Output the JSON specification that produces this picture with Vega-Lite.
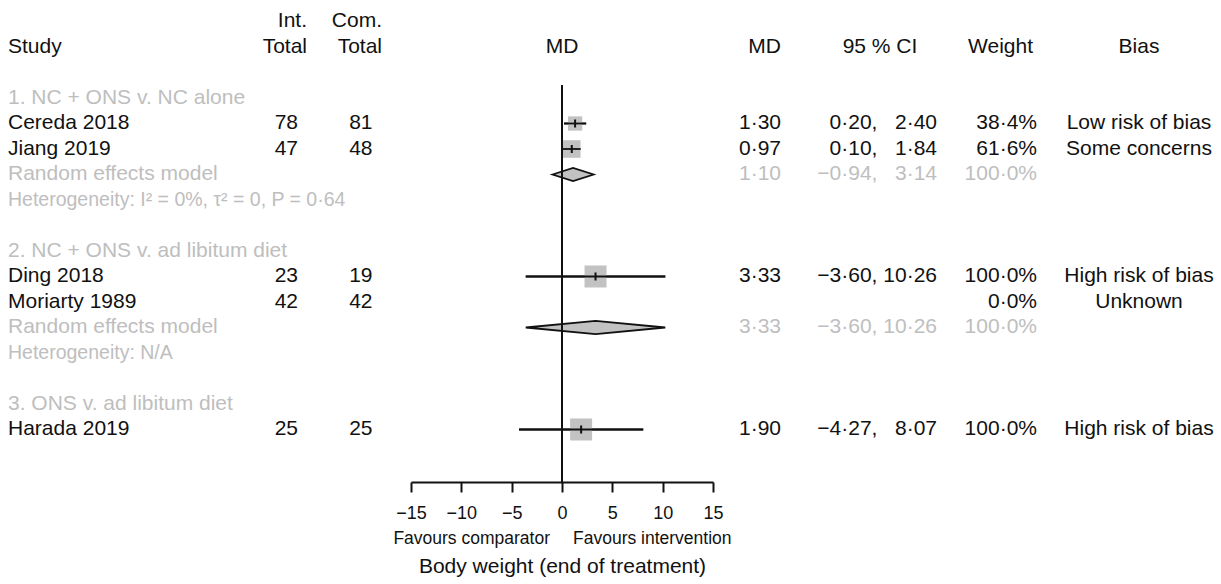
{
  "$schema": "https://vega.github.io/schema/vega-lite/v6.json",
  "width": 1221,
  "height": 482,
  "autosize": {"type": "none"},
  "padding": {"left": 0, "top": 0, "right": 0, "bottom": 102},
  "background": "white",
  "config": {
    "view": {"stroke": null},
    "font": "Liberation Sans",
    "text": {"font": "Liberation Sans"}
  },
  "datasets": {
    "studies": [
      {"study": "Cereda 2018", "row": 0, "md": 1.30, "lower": 0.20, "upper": 2.40, "weight": 38.4},
      {"study": "Jiang 2019", "row": 1, "md": 0.97, "lower": 0.10, "upper": 1.84, "weight": 61.6},
      {"study": "Ding 2018", "row": 6, "md": 3.33, "lower": -3.60, "upper": 10.26, "weight": 100},
      {"study": "Harada 2019", "row": 12, "md": 1.90, "lower": -4.27, "upper": 8.07, "weight": 100}
    ],
    "pooled": [
      {"group": 1, "row": 2, "md": 1.10, "lower": -0.94, "upper": 3.14},
      {"group": 2, "row": 8, "md": 3.33, "lower": -3.60, "upper": 10.26}
    ],
    "cells": [
      {"row": -3, "col": 0, "text": "Study", "kind": "header"},
      {"row": -4, "col": 2, "text": "Int.", "kind": "header"},
      {"row": -3, "col": 2, "text": "Total", "kind": "header"},
      {"row": -4, "col": 4, "text": "Com.", "kind": "header"},
      {"row": -3, "col": 4, "text": "Total", "kind": "header"},
      {"row": -3, "col": 5, "text": "MD", "kind": "header"},
      {"row": -3, "col": 6, "text": "95 % CI", "kind": "header"},
      {"row": -3, "col": 8, "text": "Weight", "kind": "header"},
      {"row": -3, "col": 10, "text": "Bias", "kind": "header"},

      {"row": -1, "col": 0, "text": "1. NC + ONS v. NC alone", "kind": "group"},
      {"row": 0, "col": 0, "text": "Cereda 2018", "kind": "study"},
      {"row": 0, "col": 1, "text": "78", "kind": "study"},
      {"row": 0, "col": 3, "text": "81", "kind": "study"},
      {"row": 0, "col": 5, "text": "1·30", "kind": "study"},
      {"row": 0, "col": 7, "text": "0·20, \u20072·40", "kind": "study"},
      {"row": 0, "col": 9, "text": "38·4%", "kind": "study"},
      {"row": 0, "col": 10, "text": "Low risk of bias", "kind": "study"},
      {"row": 1, "col": 0, "text": "Jiang 2019", "kind": "study"},
      {"row": 1, "col": 1, "text": "47", "kind": "study"},
      {"row": 1, "col": 3, "text": "48", "kind": "study"},
      {"row": 1, "col": 5, "text": "0·97", "kind": "study"},
      {"row": 1, "col": 7, "text": "0·10, \u20071·84", "kind": "study"},
      {"row": 1, "col": 9, "text": "61·6%", "kind": "study"},
      {"row": 1, "col": 10, "text": "Some concerns", "kind": "study"},
      {"row": 2, "col": 0, "text": "Random effects model", "kind": "pooled"},
      {"row": 2, "col": 5, "text": "1·10", "kind": "pooled"},
      {"row": 2, "col": 7, "text": "−0·94, \u20073·14", "kind": "pooled"},
      {"row": 2, "col": 9, "text": "100·0%", "kind": "pooled"},
      {"row": 3, "col": 0, "text": "Heterogeneity: I² = 0%, τ² = 0, P = 0·64", "kind": "het"},

      {"row": 5, "col": 0, "text": "2. NC + ONS v. ad libitum diet", "kind": "group"},
      {"row": 6, "col": 0, "text": "Ding 2018", "kind": "study"},
      {"row": 6, "col": 1, "text": "23", "kind": "study"},
      {"row": 6, "col": 3, "text": "19", "kind": "study"},
      {"row": 6, "col": 5, "text": "3·33", "kind": "study"},
      {"row": 6, "col": 7, "text": "−3·60, 10·26", "kind": "study"},
      {"row": 6, "col": 9, "text": "100·0%", "kind": "study"},
      {"row": 6, "col": 10, "text": "High risk of bias", "kind": "study"},
      {"row": 7, "col": 0, "text": "Moriarty 1989", "kind": "study"},
      {"row": 7, "col": 1, "text": "42", "kind": "study"},
      {"row": 7, "col": 3, "text": "42", "kind": "study"},
      {"row": 7, "col": 9, "text": "0·0%", "kind": "study"},
      {"row": 7, "col": 10, "text": "Unknown", "kind": "study"},
      {"row": 8, "col": 0, "text": "Random effects model", "kind": "pooled"},
      {"row": 8, "col": 5, "text": "3·33", "kind": "pooled"},
      {"row": 8, "col": 7, "text": "−3·60, 10·26", "kind": "pooled"},
      {"row": 8, "col": 9, "text": "100·0%", "kind": "pooled"},
      {"row": 9, "col": 0, "text": "Heterogeneity: N/A", "kind": "het"},

      {"row": 11, "col": 0, "text": "3. ONS v. ad libitum diet", "kind": "group"},
      {"row": 12, "col": 0, "text": "Harada 2019", "kind": "study"},
      {"row": 12, "col": 1, "text": "25", "kind": "study"},
      {"row": 12, "col": 3, "text": "25", "kind": "study"},
      {"row": 12, "col": 5, "text": "1·90", "kind": "study"},
      {"row": 12, "col": 7, "text": "−4·27, \u20078·07", "kind": "study"},
      {"row": 12, "col": 9, "text": "100·0%", "kind": "study"},
      {"row": 12, "col": 10, "text": "High risk of bias", "kind": "study"}
    ]
  },
  "resolve": {"scale": {"x": "independent"}, "axis": {"x": "independent"}},
  "layer": [
    {
      "data": {"name": "studies"},
      "mark": {"type": "rule", "color": "#111111", "strokeWidth": 1.8},
      "encoding": {
        "x": {
          "field": "lower", "type": "quantitative",
          "scale": {"domain": [-15, 15], "range": [411, 713], "nice": false, "zero": false},
          "title": "Body weight (end of treatment)",
          "axis": {
            "orient": "bottom",
            "values": [-15, -10, -5, 0, 5, 10, 15],
            "grid": false,
            "domainColor": "#111111", "domainWidth": 2,
            "tickColor": "#111111", "tickWidth": 2, "tickSize": 10,
            "labelFont": "Liberation Sans", "labelFontSize": 18, "labelColor": "#111111",
            "labelPadding": 12, "labelFlush": false, "labelOverlap": false,
            "titleFont": "Liberation Sans", "titleFontSize": 21, "titleFontWeight": "normal",
            "titleColor": "#111111", "titlePadding": 33
          }
        },
        "x2": {"field": "upper"},
        "y": {"field": "row", "type": "quantitative", "scale": {"domain": [-4.843, 14.059], "reverse": true, "nice": false, "zero": false}, "axis": null}
      }
    },
    {
      "data": {"name": "studies"},
      "mark": {"type": "point", "shape": "square", "filled": true, "color": "#c2c2c2", "opacity": 1, "strokeWidth": 0},
      "encoding": {
        "x": {"field": "md", "type": "quantitative", "scale": {"domain": [-15, 15], "range": [411, 713], "nice": false, "zero": false}, "axis": null},
        "y": {"field": "row", "type": "quantitative", "axis": null},
        "size": {"field": "weight", "type": "quantitative", "scale": {"domain": [38.4, 100], "range": [204, 484], "zero": false}, "legend": null}
      }
    },
    {
      "data": {"name": "studies"},
      "mark": {"type": "rule", "color": "#111111", "strokeWidth": 1.8},
      "encoding": {
        "x": {"field": "lower", "type": "quantitative", "scale": {"domain": [-15, 15], "range": [411, 713], "nice": false, "zero": false}, "axis": null},
        "x2": {"field": "upper"},
        "y": {"field": "row", "type": "quantitative", "axis": null}
      }
    },
    {
      "data": {"name": "pooled"},
      "transform": [
        {"fold": ["lower", "md", "upper"], "as": ["vertex", "xv"]},
        {"calculate": "datum.vertex === 'md' ? datum.row - 0.26 : datum.row", "as": "ytop"},
        {"calculate": "datum.vertex === 'md' ? datum.row + 0.26 : datum.row", "as": "ybot"}
      ],
      "mark": {"type": "area", "orient": "vertical", "fill": "#c2c2c2", "stroke": "#111111", "strokeWidth": 1.8, "opacity": 1, "strokeJoin": "miter"},
      "encoding": {
        "x": {"field": "xv", "type": "quantitative", "scale": {"domain": [-15, 15], "range": [411, 713], "nice": false, "zero": false}, "axis": null},
        "y": {"field": "ytop", "type": "quantitative", "axis": null},
        "y2": {"field": "ybot"},
        "detail": {"field": "group", "type": "nominal"}
      }
    },
    {
      "data": {"name": "studies"},
      "mark": {"type": "tick", "orient": "vertical", "color": "#111111", "size": 8, "thickness": 2, "opacity": 1},
      "encoding": {
        "x": {"field": "md", "type": "quantitative", "scale": {"domain": [-15, 15], "range": [411, 713], "nice": false, "zero": false}, "axis": null},
        "y": {"field": "row", "type": "quantitative", "axis": null}
      }
    },
    {
      "data": {"values": [{}]},
      "mark": {"type": "rule", "color": "#111111", "strokeWidth": 2},
      "encoding": {
        "x": {"datum": 0, "type": "quantitative", "scale": {"domain": [-15, 15], "range": [411, 713], "nice": false, "zero": false}, "axis": null},
        "y": {"datum": -1.51, "type": "quantitative", "axis": null},
        "y2": {"datum": 14.059}
      }
    },
    {
      "data": {"values": [{}]},
      "mark": {"type": "text", "align": "center", "baseline": "middle", "fontSize": 21, "color": "#111111"},
      "encoding": {
        "x": {"datum": 0, "type": "quantitative", "scale": {"domain": [-15, 15], "range": [411, 713], "nice": false, "zero": false}, "axis": null},
        "y": {"datum": -3, "type": "quantitative", "axis": null},
        "text": {"value": "MD"}
      }
    },
    {
      "data": {"values": [{}]},
      "mark": {"type": "text", "align": "right", "baseline": "middle", "fontSize": 17.5, "color": "#111111", "dx": -12},
      "encoding": {
        "x": {"datum": 0, "type": "quantitative", "scale": {"domain": [-15, 15], "range": [411, 713], "nice": false, "zero": false}, "axis": null},
        "y": {"datum": 16.29, "type": "quantitative", "axis": null},
        "text": {"value": "Favours comparator"}
      }
    },
    {
      "data": {"values": [{}]},
      "mark": {"type": "text", "align": "left", "baseline": "middle", "fontSize": 17.5, "color": "#111111", "dx": 11},
      "encoding": {
        "x": {"datum": 0, "type": "quantitative", "scale": {"domain": [-15, 15], "range": [411, 713], "nice": false, "zero": false}, "axis": null},
        "y": {"datum": 16.29, "type": "quantitative", "axis": null},
        "text": {"value": "Favours intervention"}
      }
    },
    {
      "data": {"name": "cells"},
      "encoding": {
        "x": {"field": "col", "type": "quantitative", "scale": {"domain": [0, 1, 2, 3, 4, 5, 6, 7, 8, 9, 10], "range": [8, 298, 307, 372.5, 382, 781, 880, 937, 1033, 1037, 1139], "nice": false, "zero": false}, "axis": null},
        "y": {"field": "row", "type": "quantitative", "axis": null},
        "text": {"field": "text"},
        "color": {"field": "kind", "type": "nominal", "scale": {"domain": ["header", "study", "group", "pooled", "het"], "range": ["#111111", "#111111", "#bebebe", "#bebebe", "#bebebe"]}, "legend": null}
      },
      "layer": [
        {
          "transform": [{"filter": "datum.col === 0 && datum.kind !== 'het'"}],
          "mark": {"type": "text", "align": "left", "baseline": "middle", "fontSize": 21}
        },
        {
          "transform": [{"filter": "datum.col === 0 && datum.kind === 'het'"}],
          "mark": {"type": "text", "align": "left", "baseline": "middle", "fontSize": 19.5}
        },
        {
          "transform": [{"filter": "datum.col !== 0 && datum.col !== 6 && datum.col !== 10"}],
          "mark": {"type": "text", "align": "right", "baseline": "middle", "fontSize": 21}
        },
        {
          "transform": [{"filter": "datum.col === 6 || datum.col === 10"}],
          "mark": {"type": "text", "align": "center", "baseline": "middle", "fontSize": 21}
        }
      ]
    }
  ]
}
